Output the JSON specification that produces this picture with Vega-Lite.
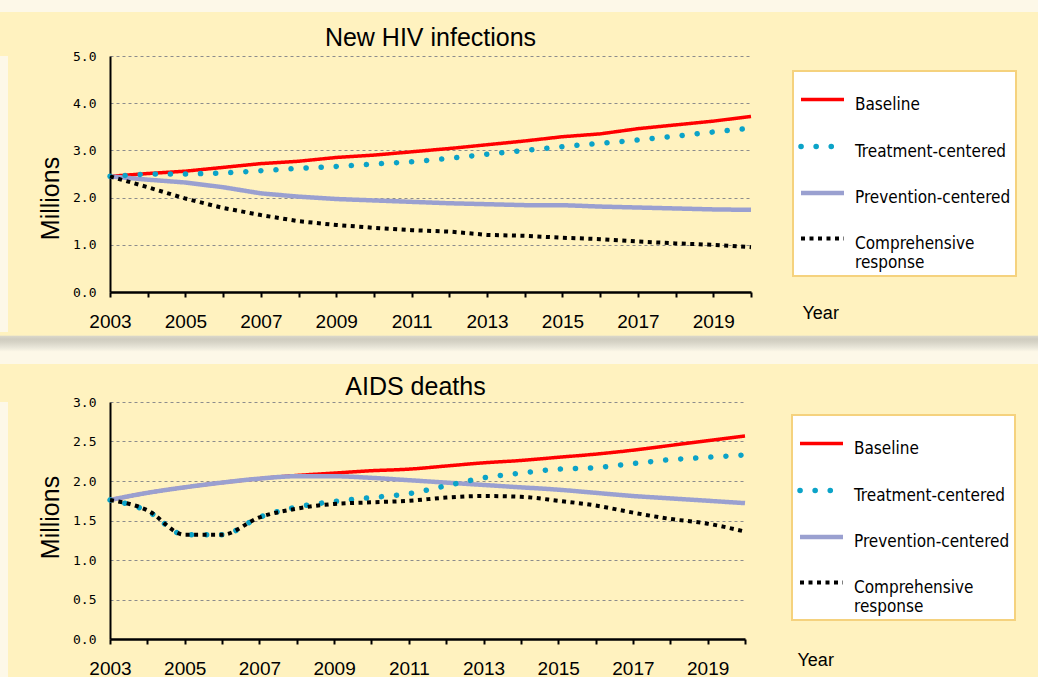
{
  "$schema": "https://vega.github.io/schema/vega-lite/v6.json",
  "background": "#fff2bf",
  "padding": 0,
  "autosize": {"type": "pad"},
  "spacing": 0,
  "resolve": {"scale": {"color": "independent", "strokeDash": "independent", "strokeWidth": "independent"}, "legend": {"color": "independent", "strokeDash": "independent", "strokeWidth": "independent"}},
  "config": {
    "view": {"stroke": null},
    "concat": {"spacing": 0},
    "font": "Liberation Sans",
    "axis": {"domainColor": "#000000", "labelColor": "#000000", "titleColor": "#000000", "titleFontWeight": "normal", "labelFont": "Liberation Sans", "titleFont": "Liberation Sans"},
    "legend": {
      "orient": "none",
      "fillColor": "#ffffff", "strokeColor": "#f5d27e", "strokeWidth": 2,
      "padding": 5, "symbolType": "stroke", "symbolSize": 1849,
      "labelFont": "Liberation Sans Narrow, DejaVu Sans Condensed, Liberation Sans", "labelFontSize": 17, "labelColor": "#000000",
      "labelOffset": 8, "labelLimit": 400, "rowPadding": 9, "labelLineHeight": 22
    }
  },
  "datasets": {
    "infections": [
      {"year": 2003, "series": "Baseline", "value": 2.45}, {"year": 2004, "series": "Baseline", "value": 2.51}, {"year": 2005, "series": "Baseline", "value": 2.56}, {"year": 2006, "series": "Baseline", "value": 2.64}, {"year": 2007, "series": "Baseline", "value": 2.72}, {"year": 2008, "series": "Baseline", "value": 2.77}, {"year": 2009, "series": "Baseline", "value": 2.85}, {"year": 2010, "series": "Baseline", "value": 2.90}, {"year": 2011, "series": "Baseline", "value": 2.97}, {"year": 2012, "series": "Baseline", "value": 3.04}, {"year": 2013, "series": "Baseline", "value": 3.12}, {"year": 2014, "series": "Baseline", "value": 3.20}, {"year": 2015, "series": "Baseline", "value": 3.29}, {"year": 2016, "series": "Baseline", "value": 3.35}, {"year": 2017, "series": "Baseline", "value": 3.46}, {"year": 2018, "series": "Baseline", "value": 3.54}, {"year": 2019, "series": "Baseline", "value": 3.62}, {"year": 2020, "series": "Baseline", "value": 3.72},
      {"year": 2003, "series": "Treatment-centered", "value": 2.45}, {"year": 2004, "series": "Treatment-centered", "value": 2.50}, {"year": 2005, "series": "Treatment-centered", "value": 2.50}, {"year": 2006, "series": "Treatment-centered", "value": 2.52}, {"year": 2007, "series": "Treatment-centered", "value": 2.57}, {"year": 2008, "series": "Treatment-centered", "value": 2.62}, {"year": 2009, "series": "Treatment-centered", "value": 2.66}, {"year": 2010, "series": "Treatment-centered", "value": 2.71}, {"year": 2011, "series": "Treatment-centered", "value": 2.76}, {"year": 2012, "series": "Treatment-centered", "value": 2.83}, {"year": 2013, "series": "Treatment-centered", "value": 2.92}, {"year": 2014, "series": "Treatment-centered", "value": 3.00}, {"year": 2015, "series": "Treatment-centered", "value": 3.08}, {"year": 2016, "series": "Treatment-centered", "value": 3.15}, {"year": 2017, "series": "Treatment-centered", "value": 3.22}, {"year": 2018, "series": "Treatment-centered", "value": 3.30}, {"year": 2019, "series": "Treatment-centered", "value": 3.39}, {"year": 2020, "series": "Treatment-centered", "value": 3.47},
      {"year": 2003, "series": "Prevention-centered", "value": 2.45}, {"year": 2004, "series": "Prevention-centered", "value": 2.38}, {"year": 2005, "series": "Prevention-centered", "value": 2.32}, {"year": 2006, "series": "Prevention-centered", "value": 2.22}, {"year": 2007, "series": "Prevention-centered", "value": 2.09}, {"year": 2008, "series": "Prevention-centered", "value": 2.02}, {"year": 2009, "series": "Prevention-centered", "value": 1.97}, {"year": 2010, "series": "Prevention-centered", "value": 1.94}, {"year": 2011, "series": "Prevention-centered", "value": 1.91}, {"year": 2012, "series": "Prevention-centered", "value": 1.88}, {"year": 2013, "series": "Prevention-centered", "value": 1.86}, {"year": 2014, "series": "Prevention-centered", "value": 1.84}, {"year": 2015, "series": "Prevention-centered", "value": 1.84}, {"year": 2016, "series": "Prevention-centered", "value": 1.81}, {"year": 2017, "series": "Prevention-centered", "value": 1.79}, {"year": 2018, "series": "Prevention-centered", "value": 1.77}, {"year": 2019, "series": "Prevention-centered", "value": 1.75}, {"year": 2020, "series": "Prevention-centered", "value": 1.74},
      {"year": 2003, "series": "Comprehensive response", "value": 2.45}, {"year": 2004, "series": "Comprehensive response", "value": 2.22}, {"year": 2005, "series": "Comprehensive response", "value": 1.98}, {"year": 2006, "series": "Comprehensive response", "value": 1.78}, {"year": 2007, "series": "Comprehensive response", "value": 1.63}, {"year": 2008, "series": "Comprehensive response", "value": 1.50}, {"year": 2009, "series": "Comprehensive response", "value": 1.42}, {"year": 2010, "series": "Comprehensive response", "value": 1.36}, {"year": 2011, "series": "Comprehensive response", "value": 1.31}, {"year": 2012, "series": "Comprehensive response", "value": 1.28}, {"year": 2013, "series": "Comprehensive response", "value": 1.21}, {"year": 2014, "series": "Comprehensive response", "value": 1.19}, {"year": 2015, "series": "Comprehensive response", "value": 1.15}, {"year": 2016, "series": "Comprehensive response", "value": 1.12}, {"year": 2017, "series": "Comprehensive response", "value": 1.07}, {"year": 2018, "series": "Comprehensive response", "value": 1.03}, {"year": 2019, "series": "Comprehensive response", "value": 1.00}, {"year": 2020, "series": "Comprehensive response", "value": 0.95}
    ],
    "deaths": [
      {"year": 2003, "series": "Baseline", "value": 1.76}, {"year": 2004, "series": "Baseline", "value": 1.85}, {"year": 2005, "series": "Baseline", "value": 1.92}, {"year": 2006, "series": "Baseline", "value": 1.98}, {"year": 2007, "series": "Baseline", "value": 2.03}, {"year": 2008, "series": "Baseline", "value": 2.07}, {"year": 2009, "series": "Baseline", "value": 2.10}, {"year": 2010, "series": "Baseline", "value": 2.13}, {"year": 2011, "series": "Baseline", "value": 2.15}, {"year": 2012, "series": "Baseline", "value": 2.19}, {"year": 2013, "series": "Baseline", "value": 2.23}, {"year": 2014, "series": "Baseline", "value": 2.26}, {"year": 2015, "series": "Baseline", "value": 2.30}, {"year": 2016, "series": "Baseline", "value": 2.34}, {"year": 2017, "series": "Baseline", "value": 2.39}, {"year": 2018, "series": "Baseline", "value": 2.45}, {"year": 2019, "series": "Baseline", "value": 2.51}, {"year": 2020, "series": "Baseline", "value": 2.57},
      {"year": 2003, "series": "Treatment-centered", "value": 1.76}, {"year": 2004, "series": "Treatment-centered", "value": 1.62}, {"year": 2005, "series": "Treatment-centered", "value": 1.32}, {"year": 2006, "series": "Treatment-centered", "value": 1.32}, {"year": 2007, "series": "Treatment-centered", "value": 1.54}, {"year": 2008, "series": "Treatment-centered", "value": 1.67}, {"year": 2009, "series": "Treatment-centered", "value": 1.74}, {"year": 2010, "series": "Treatment-centered", "value": 1.79}, {"year": 2011, "series": "Treatment-centered", "value": 1.84}, {"year": 2012, "series": "Treatment-centered", "value": 1.94}, {"year": 2013, "series": "Treatment-centered", "value": 2.04}, {"year": 2014, "series": "Treatment-centered", "value": 2.10}, {"year": 2015, "series": "Treatment-centered", "value": 2.15}, {"year": 2016, "series": "Treatment-centered", "value": 2.17}, {"year": 2017, "series": "Treatment-centered", "value": 2.22}, {"year": 2018, "series": "Treatment-centered", "value": 2.27}, {"year": 2019, "series": "Treatment-centered", "value": 2.30}, {"year": 2020, "series": "Treatment-centered", "value": 2.33},
      {"year": 2003, "series": "Prevention-centered", "value": 1.76}, {"year": 2004, "series": "Prevention-centered", "value": 1.85}, {"year": 2005, "series": "Prevention-centered", "value": 1.92}, {"year": 2006, "series": "Prevention-centered", "value": 1.98}, {"year": 2007, "series": "Prevention-centered", "value": 2.03}, {"year": 2008, "series": "Prevention-centered", "value": 2.06}, {"year": 2009, "series": "Prevention-centered", "value": 2.06}, {"year": 2010, "series": "Prevention-centered", "value": 2.04}, {"year": 2011, "series": "Prevention-centered", "value": 2.01}, {"year": 2012, "series": "Prevention-centered", "value": 1.98}, {"year": 2013, "series": "Prevention-centered", "value": 1.95}, {"year": 2014, "series": "Prevention-centered", "value": 1.92}, {"year": 2015, "series": "Prevention-centered", "value": 1.89}, {"year": 2016, "series": "Prevention-centered", "value": 1.85}, {"year": 2017, "series": "Prevention-centered", "value": 1.81}, {"year": 2018, "series": "Prevention-centered", "value": 1.78}, {"year": 2019, "series": "Prevention-centered", "value": 1.75}, {"year": 2020, "series": "Prevention-centered", "value": 1.72},
      {"year": 2003, "series": "Comprehensive response", "value": 1.76}, {"year": 2004, "series": "Comprehensive response", "value": 1.63}, {"year": 2005, "series": "Comprehensive response", "value": 1.32}, {"year": 2006, "series": "Comprehensive response", "value": 1.32}, {"year": 2007, "series": "Comprehensive response", "value": 1.54}, {"year": 2008, "series": "Comprehensive response", "value": 1.65}, {"year": 2009, "series": "Comprehensive response", "value": 1.71}, {"year": 2010, "series": "Comprehensive response", "value": 1.73}, {"year": 2011, "series": "Comprehensive response", "value": 1.75}, {"year": 2012, "series": "Comprehensive response", "value": 1.79}, {"year": 2013, "series": "Comprehensive response", "value": 1.81}, {"year": 2014, "series": "Comprehensive response", "value": 1.80}, {"year": 2015, "series": "Comprehensive response", "value": 1.75}, {"year": 2016, "series": "Comprehensive response", "value": 1.69}, {"year": 2017, "series": "Comprehensive response", "value": 1.60}, {"year": 2018, "series": "Comprehensive response", "value": 1.52}, {"year": 2019, "series": "Comprehensive response", "value": 1.46}, {"year": 2020, "series": "Comprehensive response", "value": 1.36}
    ],
    "band": [{"part": "band"}]
  },
  "vconcat": [
    {
      "width": 1038, "height": 26,
      "data": {"name": "band"},
      "mark": {"type": "rect", "fill": {"gradient": "linear", "x1": 0, "y1": 0, "x2": 0, "y2": 1, "stops": [
        {"offset": 0, "color": "#fdf8e8"}, {"offset": 0.461, "color": "#fdf8e8"}, {"offset": 0.462, "color": "#fff2bf"}, {"offset": 1, "color": "#fff2bf"}]}},
      "encoding": {}
    },
    {
      "spacing": 30,
      "resolve": {"scale": {"color": "independent", "strokeDash": "independent", "strokeWidth": "independent"}, "legend": {"color": "independent", "strokeDash": "independent", "strokeWidth": "independent"}},
      "hconcat": [
        {
          "width": 8, "height": 276,
          "data": {"name": "band"},
          "mark": {"type": "rect", "fill": "#fdf8e8"},
          "encoding": {}
        },
        {
          "resolve": {"scale": {"color": "independent", "strokeDash": "independent", "strokeWidth": "independent"}, "legend": {"color": "independent", "strokeDash": "independent", "strokeWidth": "independent"}},
          "vconcat": [
            {
              "width": 641, "height": 236,
              "title": {"text": "New HIV infections", "fontSize": 25, "fontWeight": "normal", "font": "Liberation Sans", "color": "#000000", "anchor": "middle", "frame": "group", "offset": -1},
              "data": {"name": "infections"},
              "encoding": {
                "x": {"field": "year", "type": "quantitative", "scale": {"domain": [2003, 2020], "nice": false, "zero": false},
                  "axis": {"values": [2003, 2004, 2005, 2006, 2007, 2008, 2009, 2010, 2011, 2012, 2013, 2014, 2015, 2016, 2017, 2018, 2019, 2020],
                    "labelExpr": "datum.value % 2 == 1 ? format(datum.value, 'd') : ''", "labelOverlap": false, "labelFlush": false,
                    "labelFontSize": 19, "labelPadding": 15, "tickSize": 5, "tickWidth": 2, "tickColor": "#000000", "domainWidth": 2.5, "grid": false,
                    "title": "Year", "titleX": 692, "titleY": 21, "titleAlign": "left", "titleBaseline": "middle", "titleFontSize": 18, "titleAnchor": "start"}},
                "y": {"field": "value", "type": "quantitative", "scale": {"domain": [0, 5], "nice": false},
                  "axis": {"values": [0, 1, 2, 3, 4, 5], "format": ".1f", "labelFont": "DejaVu Sans Mono", "labelFontSize": 13, "labelPadding": 14, "ticks": false,
                    "domainWidth": 2, "grid": true, "gridDash": [3, 3], "gridColor": "#8c8c8c", "gridWidth": 1,
                    "title": "Millions", "titleFontSize": 25, "titlePadding": 9, "titleY": 142}},
                "color": {"field": "series", "type": "nominal",
                  "scale": {"domain": ["Baseline", "Treatment-centered", "Prevention-centered", "Comprehensive response"], "range": ["#ff0000", "#0ba3c8", "#9aa0d0", "#000000"]},
                  "legend": {"title": null, "legendX": 683, "legendY": 15, "labelExpr": "datum.label == 'Comprehensive response' ? ['Comprehensive', 'response'] : datum.label", "labelBaseline": "top",
                    "encoding": {"symbols": {"strokeCap": {"value": {"expr": "datum.value == 'Treatment-centered' ? 'round' : 'butt'"}}}, "labels": {"dy": {"value": -3}}}}},
                "strokeDash": {"field": "series", "type": "nominal",
                  "scale": {"domain": ["Baseline", "Treatment-centered", "Prevention-centered", "Comprehensive response"], "range": [[1, 0], [0.1, 15], [1, 0], [4, 4.5]]},
                  "legend": {"title": null}},
                "strokeWidth": {"field": "series", "type": "nominal",
                  "scale": {"type": "ordinal", "domain": ["Baseline", "Treatment-centered", "Prevention-centered", "Comprehensive response"], "range": [3.5, 5.5, 4.5, 4]},
                  "legend": {"title": null}}
              },
              "layer": [
                {"transform": [{"filter": "datum.series == 'Baseline'"}], "mark": {"type": "line", "strokeCap": "butt"}},
                {"transform": [{"filter": "datum.series == 'Prevention-centered'"}], "mark": {"type": "line", "strokeCap": "butt"}},
                {"transform": [{"filter": "datum.series == 'Treatment-centered'"}], "mark": {"type": "line", "strokeCap": "round"}},
                {"transform": [{"filter": "datum.series == 'Comprehensive response'"}], "mark": {"type": "line", "strokeCap": "butt"}}
              ]
            }
          ]
        }
      ]
    },
    {
      "width": 1038, "height": 42,
      "data": {"name": "band"},
      "mark": {"type": "rect", "fill": {"gradient": "linear", "x1": 0, "y1": 0, "x2": 0, "y2": 1, "stops": [
        {"offset": 0, "color": "#fff2bf"}, {"offset": 0.083, "color": "#fff2bf"}, {"offset": 0.084, "color": "#dcd9cb"},
        {"offset": 0.17, "color": "#cfccc0"}, {"offset": 0.24, "color": "#d6d3c6"}, {"offset": 0.38, "color": "#ebe8db"}, {"offset": 0.47, "color": "#fdf8e8"},
        {"offset": 0.75, "color": "#fdf8e8"}, {"offset": 0.751, "color": "#fff2bf"}, {"offset": 1, "color": "#fff2bf"}]}},
      "encoding": {}
    },
    {
      "spacing": 30,
      "resolve": {"scale": {"color": "independent", "strokeDash": "independent", "strokeWidth": "independent"}, "legend": {"color": "independent", "strokeDash": "independent", "strokeWidth": "independent"}},
      "hconcat": [
        {
          "width": 8, "height": 279,
          "data": {"name": "band"},
          "mark": {"type": "rect", "fill": "#fdf8e8"},
          "encoding": {}
        },
        {
          "resolve": {"scale": {"color": "independent", "strokeDash": "independent", "strokeWidth": "independent"}, "legend": {"color": "independent", "strokeDash": "independent", "strokeWidth": "independent"}},
          "vconcat": [
            {
              "width": 635, "height": 237,
              "title": {"text": "AIDS deaths", "fontSize": 25, "fontWeight": "normal", "font": "Liberation Sans", "color": "#000000", "anchor": "middle", "frame": "group", "offset": -3.5, "dx": -12},
              "data": {"name": "deaths"},
              "encoding": {
                "x": {"field": "year", "type": "quantitative", "scale": {"domain": [2003, 2020], "nice": false, "zero": false},
                  "axis": {"values": [2003, 2004, 2005, 2006, 2007, 2008, 2009, 2010, 2011, 2012, 2013, 2014, 2015, 2016, 2017, 2018, 2019, 2020],
                    "labelExpr": "datum.value % 2 == 1 ? format(datum.value, 'd') : ''", "labelOverlap": false, "labelFlush": false,
                    "labelFontSize": 19, "labelPadding": 15, "tickSize": 5, "tickWidth": 2, "tickColor": "#000000", "domainWidth": 2.5, "grid": false,
                    "title": "Year", "titleX": 687, "titleY": 21, "titleAlign": "left", "titleBaseline": "middle", "titleFontSize": 18, "titleAnchor": "start"}},
                "y": {"field": "value", "type": "quantitative", "scale": {"domain": [0, 3], "nice": false},
                  "axis": {"values": [0, 0.5, 1, 1.5, 2, 2.5, 3], "format": ".1f", "labelFont": "DejaVu Sans Mono", "labelFontSize": 13, "labelPadding": 14, "ticks": false,
                    "domainWidth": 2, "grid": true, "gridDash": [3, 3], "gridColor": "#8c8c8c", "gridWidth": 1,
                    "title": "Millions", "titleFontSize": 25, "titlePadding": 9, "titleY": 115}},
                "color": {"field": "series", "type": "nominal",
                  "scale": {"domain": ["Baseline", "Treatment-centered", "Prevention-centered", "Comprehensive response"], "range": ["#ff0000", "#0ba3c8", "#9aa0d0", "#000000"]},
                  "legend": {"title": null, "legendX": 682, "legendY": 13, "labelExpr": "datum.label == 'Comprehensive response' ? ['Comprehensive', 'response'] : datum.label", "labelBaseline": "top",
                    "encoding": {"symbols": {"strokeCap": {"value": {"expr": "datum.value == 'Treatment-centered' ? 'round' : 'butt'"}}}, "labels": {"dy": {"value": -3}}}}},
                "strokeDash": {"field": "series", "type": "nominal",
                  "scale": {"domain": ["Baseline", "Treatment-centered", "Prevention-centered", "Comprehensive response"], "range": [[1, 0], [0.1, 15], [1, 0], [4, 4.5]]},
                  "legend": {"title": null}},
                "strokeWidth": {"field": "series", "type": "nominal",
                  "scale": {"type": "ordinal", "domain": ["Baseline", "Treatment-centered", "Prevention-centered", "Comprehensive response"], "range": [3.5, 5.5, 4.5, 4]},
                  "legend": {"title": null}}
              },
              "layer": [
                {"transform": [{"filter": "datum.series == 'Baseline'"}], "mark": {"type": "line", "strokeCap": "butt", "interpolate": "monotone"}},
                {"transform": [{"filter": "datum.series == 'Prevention-centered'"}], "mark": {"type": "line", "strokeCap": "butt", "interpolate": "monotone"}},
                {"transform": [{"filter": "datum.series == 'Treatment-centered'"}], "mark": {"type": "line", "strokeCap": "round", "interpolate": "monotone"}},
                {"transform": [{"filter": "datum.series == 'Comprehensive response'"}], "mark": {"type": "line", "strokeCap": "butt", "interpolate": "monotone"}}
              ]
            }
          ]
        }
      ]
    }
  ]
}
